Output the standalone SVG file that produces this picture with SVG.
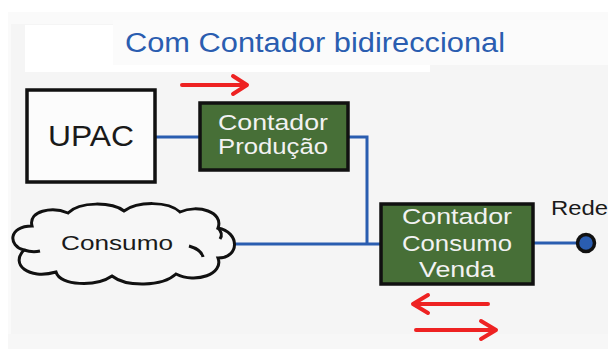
<svg xmlns="http://www.w3.org/2000/svg" width="608" height="349" viewBox="0 0 608 349">
<style>
.wire{stroke:#2a5db0;stroke-width:3;fill:none}
.arrow{stroke:#ee2222;stroke-width:4;fill:none;stroke-linecap:round;stroke-linejoin:round}
.meter{fill:#476f37;stroke:#111;stroke-width:3.5}
.mt{font-family:"Liberation Sans",Arial,sans-serif;font-size:22px;fill:#f2f2f2;text-anchor:middle}
.dk{font-family:"Liberation Sans",Arial,sans-serif;fill:#1a1a1a}
</style>
<rect width="608" height="349" fill="#ffffff"/>
<rect x="8" y="12" width="600" height="337" fill="#fafafa"/>
<rect x="11" y="24" width="597" height="310" fill="#f5f5f5"/>
<rect x="8" y="334" width="600" height="15" fill="#f7f7f7"/>
<rect x="25" y="25" width="405" height="47" fill="#ffffff"/>
<rect x="113" y="20" width="495" height="45" fill="#fbfbfb"/>
<text id="title" x="125" y="52" font-family="'Liberation Sans',Arial,sans-serif" font-size="27" fill="#2a5db0" textLength="380" lengthAdjust="spacingAndGlyphs">Com Contador bidireccional</text>

<g id="connectors">
<path class="wire" d="M155,137 H200"/>
<path class="wire" d="M348,137 H367 V243"/>
<path class="wire" d="M235,244 H381"/>
<path class="wire" d="M533,243 H578"/>
</g>

<g id="arrows">
<path class="arrow" d="M182,85 H247 M233,76 L247,85 L233,94"/>
<path class="arrow" d="M488,304 H413 M428,295 L413,304 L428,313"/>
<path class="arrow" d="M416,330 H496 M481,321 L496,330 L481,339"/>
</g>

<g id="upac">
<rect x="27" y="90" width="128" height="92" fill="#fcfcfc" stroke="#111" stroke-width="3.5"/>
<text class="dk" x="91" y="146" font-size="30" text-anchor="middle" textLength="86" lengthAdjust="spacingAndGlyphs">UPAC</text>
</g>

<g id="contador-producao">
<rect class="meter" x="200" y="103" width="148" height="67"/>
<text class="mt" x="273" y="130" textLength="110" lengthAdjust="spacingAndGlyphs">Contador</text>
<text class="mt" x="273" y="154" textLength="110" lengthAdjust="spacingAndGlyphs">Produção</text>
</g>

<g id="consumo">
<path d="M24,250 C8,246 8,226 32,226 C28,211 52,206 68,213 C80,201 112,202 124,211 C138,201 168,201 180,212 C198,204 224,212 218,228 C240,232 240,258 218,258 C224,274 196,284 176,274 C162,287 126,287 112,276 C96,287 60,286 56,272 C28,280 10,264 24,250 Z" fill="#f7f7f7" stroke="#111" stroke-width="3"/>
<path d="M24,250 C30,252 36,252 40,251" fill="none" stroke="#111" stroke-width="3"/>
<path d="M189,246 C196,248 202,252 203,257" fill="none" stroke="#111" stroke-width="3"/>
<path d="M218,228 C222,232 222,236 220,239" fill="none" stroke="#111" stroke-width="3"/>
<text class="dk" x="117" y="250" font-size="21" text-anchor="middle" fill="#222" textLength="112" lengthAdjust="spacingAndGlyphs">Consumo</text>
</g>

<g id="contador-consumo-venda">
<rect class="meter" x="381" y="204" width="152" height="80"/>
<text class="mt" x="457" y="224" textLength="110" lengthAdjust="spacingAndGlyphs">Contador</text>
<text class="mt" x="457" y="251" textLength="110" lengthAdjust="spacingAndGlyphs">Consumo</text>
<text class="mt" x="457" y="277" textLength="76" lengthAdjust="spacingAndGlyphs">Venda</text>
</g>

<g id="rede">
<circle cx="586" cy="243" r="8.5" fill="#2a5db0" stroke="#111" stroke-width="3.5"/>
<text class="dk" x="551" y="215" font-size="20" textLength="57" lengthAdjust="spacingAndGlyphs">Rede</text>
</g>
</svg>
